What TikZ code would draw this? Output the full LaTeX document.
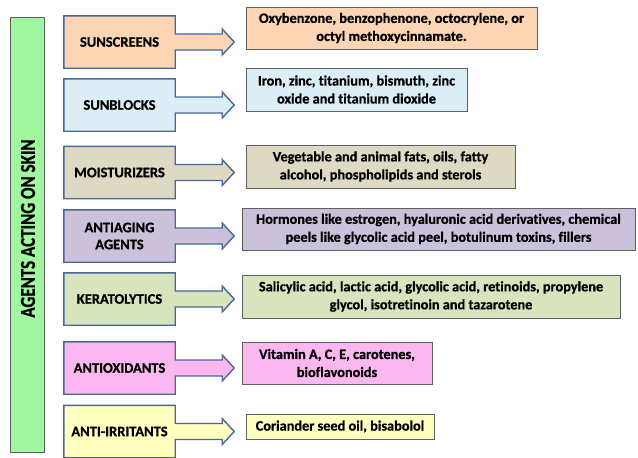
\documentclass[tikz,border=0pt]{standalone}
\usepackage{fontspec}
\setmainfont{Carlito}[Ligatures=NoCommon, BoldFeatures={FakeBold=0.8}]
\usetikzlibrary{calc,backgrounds}
\definecolor{cpeach}{HTML}{FCD5B5}
\definecolor{cblue}{HTML}{DCEEF5}
\definecolor{ctan}{HTML}{DDD9C3}
\definecolor{clav}{HTML}{CCC1DA}
\definecolor{cgreen}{HTML}{D7E4BD}
\definecolor{cpink}{HTML}{FBB8F0}
\definecolor{cyellow}{HTML}{FFFFC0}
\definecolor{cbar}{HTML}{A0F7A0}
\definecolor{cedge}{HTML}{46689A}
\definecolor{cgray}{HTML}{5F5F5F}
\tikzset{
  lbl/.style={minimum width=111pt, minimum height=52pt, inner sep=0pt, align=center,
    font=\fontsize{14.5}{17}\selectfont\bfseries},
  rbox/.style={draw=cgray, line width=0.9pt, inner sep=0pt, align=center,
    font=\fontsize{14.3}{18}\selectfont\bfseries},
  callout/.style={draw=cedge, line width=1.4pt, line join=miter},
  bar/.style={draw=cgray, line width=0.8pt, fill=cbar, minimum width=34pt, minimum height=435pt, inner sep=0pt}
}
\newcommand\mkcallout[2]{%
  \begin{pgfonlayer}{background}
  \draw[callout, fill=#2] (#1.north west) -- (#1.north east) -- ($(#1.east)+(0,-8)$)
    -- ($(#1.east)+(47,-8)$) -- ($(#1.east)+(47,-13)$) -- ($(#1.east)+(59,0)$)
    -- ($(#1.east)+(47,13)$) -- ($(#1.east)+(47,8)$) -- ($(#1.east)+(0,8)$)
    -- (#1.south east) -- (#1.south west) -- cycle;
  \end{pgfonlayer}}
\begin{document}
\begin{tikzpicture}[x=1pt,y=-1pt]
\useasboundingbox (0,0) rectangle (638,458);
\node[bar] (bar) at (27,234.5) {};
\node[rotate=90, font=\fontsize{17}{20}\selectfont\bfseries] (bartext) at (28,228.5) {\scalebox{1}[1.25]{AGENTS ACTING ON SKIN}};

\node[lbl] (l1) at (119.5,42) {SUNSCREENS};
\node[lbl] (l2) at (119.5,105) {SUNBLOCKS};
\node[lbl] (l3) at (119.5,172.5) {MOISTURIZERS};
\node[lbl] (l4) at (119.5,236) {ANTIAGING\\AGENTS};
\node[lbl] (l5) at (119.5,299) {KERATOLYTICS};
\node[lbl] (l6) at (119.5,368) {ANTIOXIDANTS};
\node[lbl] (l7) at (119.5,431.5) {ANTI-IRRITANTS};
\mkcallout{l1}{cpeach}
\mkcallout{l2}{cblue}
\mkcallout{l3}{ctan}
\mkcallout{l4}{clav}
\mkcallout{l5}{cgreen}
\mkcallout{l6}{cpink}
\mkcallout{l7}{cyellow}

\node[rbox, fill=cpeach, minimum width=291pt, minimum height=42pt] (r1) at (391.5,28) {Oxybenzone, benzophenone, octocrylene, or\\octyl methoxycinnamate.};
\node[rbox, fill=cblue, minimum width=221pt, minimum height=43pt] (r2) at (356.5,89.5) {Iron, zinc, titanium, bismuth, zinc\\oxide and titanium dioxide};
\node[rbox, fill=ctan, minimum width=269pt, minimum height=43pt] (r3) at (380.5,166.5) {Vegetable and animal fats, oils, fatty\\alcohol, phospholipids and sterols};
\node[rbox, fill=clav, minimum width=393pt, minimum height=42pt] (r4) at (438.5,229) {Hormones like estrogen, hyaluronic acid derivatives, chemical\\peels like glycolic acid peel, botulinum toxins, fillers};
\node[rbox, fill=cgreen, minimum width=378pt, minimum height=43pt] (r5) at (431,296.5) {Salicylic acid, lactic acid, glycolic acid, retinoids, propylene\\glycol, isotretinoin and tazarotene};
\node[rbox, fill=cpink, minimum width=190pt, minimum height=42pt] (r6) at (337,363) {Vitamin A, C, E, carotenes,\\bioflavonoids};
\node[rbox, fill=cyellow, minimum width=188pt, minimum height=25pt] (r7) at (340,426.5) {Coriander seed oil, bisabolol};
\end{tikzpicture}
\end{document}
